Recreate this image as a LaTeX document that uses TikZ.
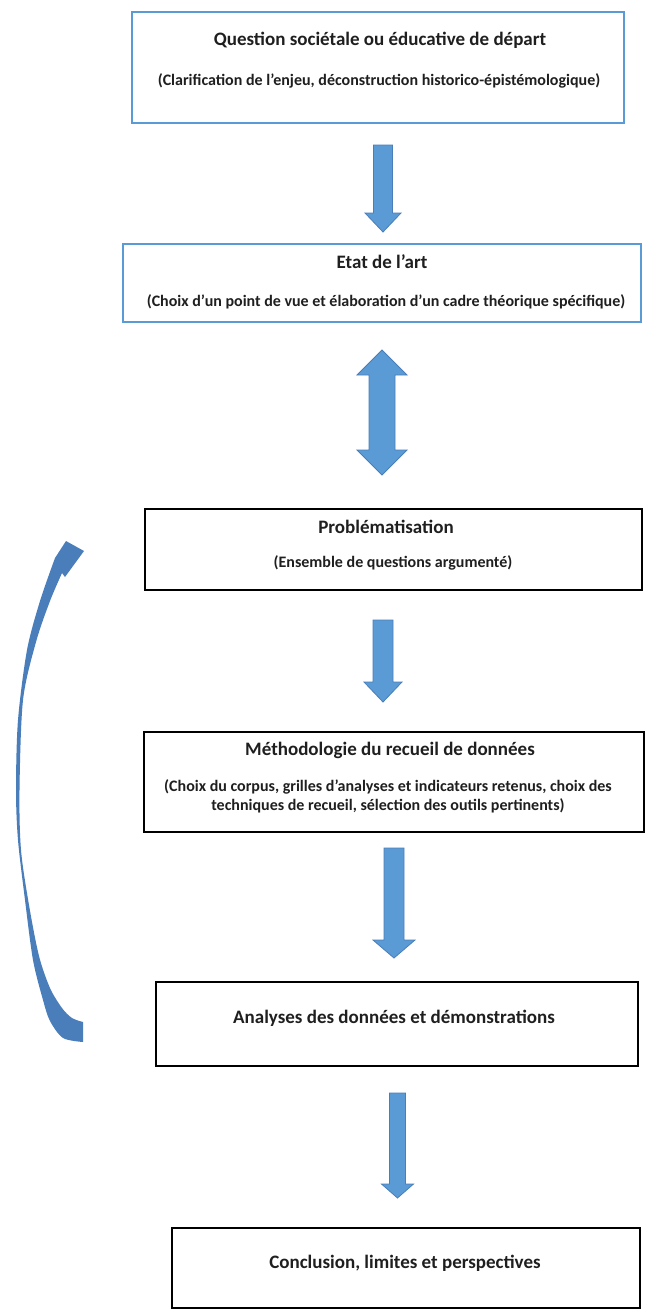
\documentclass[tikz,border=0pt]{standalone}
\usepackage{fontspec}
\setmainfont{Carlito}
\definecolor{boxblue}{HTML}{5B9BD5}
\definecolor{arrowfill}{HTML}{5B9BD5}
\definecolor{arrowedge}{HTML}{4A7EBB}
\definecolor{curvefill}{HTML}{4A7EBB}
\tikzset{
  bluebox/.style={draw=boxblue, line width=1.6pt, rectangle, inner sep=0pt},
  blackbox/.style={draw=black, line width=1.3pt, rectangle, inner sep=0pt},
  titletext/.style={font=\bfseries\fontsize{19}{22}\selectfont, inner sep=0pt, text=black!88},
  subtext/.style={font=\bfseries\fontsize{16}{19}\selectfont, inner sep=0pt, align=center, text=black!88},
  blockarrow/.style={fill=arrowfill, draw=arrowedge, line width=0.8pt, line join=miter}
}
% x, ytop, yheadbase, ytip, halfshaft, halfhead
\newcommand\mydownarrow[6]{%
  \draw[blockarrow] (#1-#5,#2) -- (#1+#5,#2) -- (#1+#5,#3) -- (#1+#6,#3) -- (#1,#4)
    -- (#1-#6,#3) -- (#1-#5,#3) -- cycle;}
\begin{document}
\begin{tikzpicture}[x=1pt,y=-1pt]
\useasboundingbox[fill=white] (0,0) rectangle (653,1315);

% boxes
\node[bluebox, minimum width=492pt, minimum height=111pt] (b1) at (378,67.5) {};
\node[bluebox, minimum width=518pt, minimum height=78pt] (b2) at (382,283) {};
\node[blackbox, minimum width=497pt, minimum height=81pt] (b3) at (393.5,549.5) {};
\node[blackbox, minimum width=500pt, minimum height=100pt] (b4) at (394,782) {};
\node[blackbox, minimum width=482pt, minimum height=84pt] (b5) at (397,1024) {};
\node[blackbox, minimum width=468pt, minimum height=80pt] (b6) at (406,1268) {};

% texts
\node[titletext] (t1) at (380,40) {Question sociétale ou éducative de départ};
\node[subtext] (s1) at (379,81) {(Clarification de l’enjeu, déconstruction historico-épistémologique)};
\node[titletext] (t2) at (382,262) {Etat de l’art};
\node[subtext] (s2) at (386,302) {(Choix d’un point de vue et élaboration d’un cadre théorique spécifique)};
\node[titletext] (t3) at (386,527) {Problématisation};
\node[subtext] (s3) at (393,563) {(Ensemble de questions argumenté)};
\node[titletext] (t4) at (390,750) {Méthodologie du recueil de données};
\node[subtext] (s4) at (388,796) {(Choix du corpus, grilles d’analyses et indicateurs retenus, choix des\\techniques de recueil, sélection des outils pertinents)};
\node[titletext] (t5) at (394,1018) {Analyses des données et démonstrations};
\node[titletext] (t6) at (405,1263) {Conclusion, limites et perspectives};

% straight block arrows
\mydownarrow{383}{145}{213}{232}{9.5}{18}
\draw[blockarrow] (369,375) -- (357,375) -- (382,350) -- (407,375) -- (395,375)
  -- (395,450) -- (407,450) -- (382,475) -- (357,450) -- (369,450) -- cycle;
\mydownarrow{383}{620}{682}{702}{10}{19}
\mydownarrow{394}{848}{940}{958}{10}{21}
\mydownarrow{397.5}{1093}{1184}{1198}{8}{16}

% curved feedback arrow
\fill[curvefill] plot[smooth, tension=0.5] coordinates {(83,1042) (63,1038) (50,1021) (43,1000) (33,960) (25,900) (18,840) (16,790) (18,720) (27,650) (40,601) (55,558)}
  -- (66,541) -- (84,551) -- (65,577)
  -- plot[smooth, tension=0.5] coordinates {(62,573) (50,601) (36,642) (23,700) (19.5,790) (21,850) (29,905) (39,956) (50,988) (62,1008) (72,1018) (83,1022)}
  -- cycle;
\end{tikzpicture}
\end{document}
